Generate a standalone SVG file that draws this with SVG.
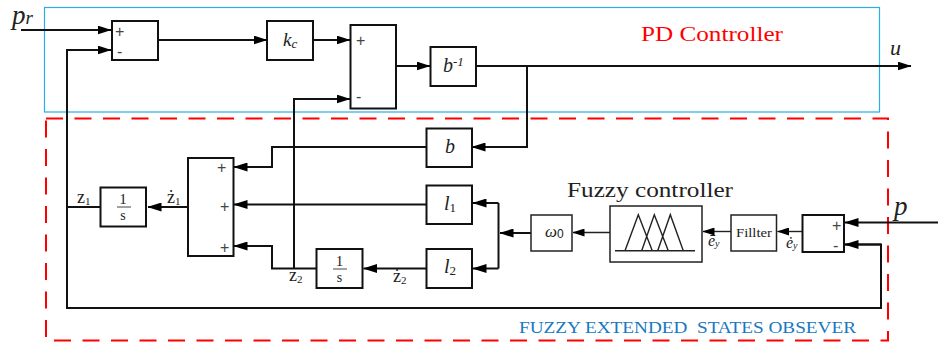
<svg xmlns="http://www.w3.org/2000/svg" width="938" height="349" viewBox="0 0 938 349">
<style>
.b{fill:#fff;stroke:#111;stroke-width:2}
.b2{fill:#fff;stroke:#222;stroke-width:1.5}
.c{fill:none;stroke:#111;stroke-width:2;marker-end:url(#a)}
.n{fill:none;stroke:#111;stroke-width:2}
.t{fill:none;stroke:#222;stroke-width:1.4;marker-end:url(#s)}
text{font-family:"Liberation Serif","Times New Roman",serif;fill:#222;white-space:pre}
.i{font-style:italic}
.sg{font-family:"Liberation Sans",Arial,sans-serif;font-size:16px;fill:#444}
.m{text-anchor:middle}
</style>
<defs>
<marker id="a" markerUnits="userSpaceOnUse" markerWidth="14" markerHeight="9" refX="13.5" refY="4.5" orient="auto"><path d="M0 0L14 4.5L0 9Z" fill="#000"/></marker>
<marker id="s" markerUnits="userSpaceOnUse" markerWidth="12" markerHeight="8" refX="11.5" refY="4" orient="auto"><path d="M0 0L12 4L0 8Z" fill="#000"/></marker>
</defs>
<g id="pd-frame"><rect x="44.5" y="7.5" width="835" height="104.5" fill="none" stroke="#29aee6" stroke-width="1.2"/><text x="641" y="41" font-size="22" textLength="142" lengthAdjust="spacingAndGlyphs" style="fill:#f00">PD Controller</text></g>
<g id="observer-frame"><rect x="46" y="118.5" width="842" height="222" fill="none" stroke="#f00" stroke-width="2" stroke-dasharray="17 11.5"/><text x="519" y="333" font-size="17" textLength="337" lengthAdjust="spacingAndGlyphs" style="fill:#1878c0">FUZZY EXTENDED  STATES OBSEVER</text></g>
<g id="connectors">
<path class="c" d="M21 30H111"/>
<path class="c" d="M67 207V50H111"/>
<path class="c" d="M158 40H267"/>
<path class="c" d="M313 40H350"/>
<path class="c" d="M396 66H430"/>
<path class="c" d="M476 66H911"/>
<path class="c" d="M527 66V147H472"/>
<path class="c" d="M426 147H272V167H234"/>
<path class="c" d="M426 204.5H234"/>
<path class="c" d="M316.5 268.5H272V246H234"/>
<path class="c" d="M294 268.5V99H350"/>
<path class="c" d="M188 207H148"/>
<path class="n" d="M100 207H67V308H881V244.5H845"/>
<path class="c" d="M881 244.500H845"/>
<path class="c" d="M426 268.500H363.500"/>
<path class="c" d="M498.500 203H473"/>
<path class="c" d="M498.500 268.500H473"/>
<path class="n" d="M498.500 203V268.500"/>
<path class="c" d="M531 233H500"/>
<path class="t" d="M610 232.500H573"/>
<path class="t" d="M731 231.500H703"/>
<path class="t" d="M802 231.500H777.500"/>
<path class="c" d="M938 222.500H845"/>
</g>
<g id="sum1"><rect class="b" x="112" y="21" width="46" height="39"/><text class="sg" x="115" y="37">+</text><text class="sg" x="117" y="57">-</text></g>
<g id="kc"><rect class="b" x="267" y="21" width="46" height="39"/><text class="i" x="283" y="46" font-size="19">k<tspan font-size="13" dy="2">c</tspan></text></g>
<g id="sum2"><rect class="b" x="350.500" y="25" width="45.500" height="83.500"/><text class="sg" x="356" y="46">+</text><text class="sg" x="356" y="102">-</text></g>
<g id="binv"><rect class="b" x="430.500" y="47" width="45.500" height="39"/><text class="i" x="443" y="72" font-size="20">b<tspan font-size="13" dy="-6">-1</tspan></text></g>
<g id="b"><rect class="b" x="426.500" y="128.500" width="45.500" height="38.500"/><text class="i" x="445" y="153" font-size="20">b</text></g>
<g id="sum3"><rect class="b" x="188" y="158" width="45.500" height="98"/><text class="sg" x="217" y="173">+</text><text class="sg" x="220" y="212">+</text><text class="sg" x="220" y="253">+</text></g>
<g id="int1"><rect class="b" x="100.500" y="187.500" width="45.500" height="39"/><text class="m" x="123" y="203.500" font-size="15">1</text><path d="M117 207H131" stroke="#444"/><text class="m" x="123" y="220" font-size="14">s</text></g>
<g id="l1"><rect class="b" x="426.500" y="185.500" width="45.500" height="38.500"/><text class="i" x="444" y="210" font-size="20">l<tspan font-size="13" dy="2" font-style="normal">1</tspan></text></g>
<g id="l2"><rect class="b" x="426.500" y="249" width="45.500" height="39"/><text class="i" x="444" y="273" font-size="20">l<tspan font-size="13" dy="2" font-style="normal">2</tspan></text></g>
<g id="int2"><rect class="b" x="316.500" y="249" width="46" height="39"/><text class="m" x="339.500" y="265.500" font-size="15">1</text><path d="M333 269H347" stroke="#444"/><text class="m" x="339.500" y="282" font-size="14">s</text></g>
<g id="w0"><rect class="b2" x="531" y="215" width="41" height="36"/><text class="i" x="545" y="237" font-size="17">ω<tspan font-size="12" dy="1" font-style="normal" style="font-family:'Liberation Sans',sans-serif">0</tspan></text></g>
<g id="fuzzy"><rect class="b2" x="610" y="206" width="92" height="56"/><path d="M615 250.700H695M625 250.700L638.300 214.700L652.300 250.700M641.700 250.700L654.300 214.700L668.300 250.700M657.700 250.700L670.300 214.700L683.300 250.700" fill="none" stroke="#222" stroke-width="1.400"/><text x="567" y="197" font-size="21" textLength="166" lengthAdjust="spacingAndGlyphs">Fuzzy controller</text></g>
<g id="filter"><rect class="b2" x="731" y="215" width="45.500" height="36"/><text x="736" y="237" font-size="13" textLength="36" lengthAdjust="spacingAndGlyphs">Fillter</text></g>
<g id="sum4"><rect class="b" x="802.500" y="215" width="41.500" height="37"/><text class="sg" x="832" y="231">+</text><text class="sg" x="833" y="251">-</text></g>
<g id="labels">
<text class="i" x="12" y="24" font-size="27">p<tspan font-size="19" dy="0">r</tspan></text>
<text class="i" x="890" y="55" font-size="22">u</text>
<text class="i" x="894" y="215" font-size="27">p</text>
<text x="77" y="203" font-size="18">z<tspan font-size="11" dy="2">1</tspan></text>
<text x="167" y="203" font-size="18">ż<tspan font-size="11" dy="2">1</tspan></text>
<text x="289" y="281" font-size="18">z<tspan font-size="11" dy="2">2</tspan></text>
<text x="393" y="282" font-size="18">ż<tspan font-size="11" dy="2">2</tspan></text>
<text class="i" x="708" y="246" font-size="16">ē<tspan font-size="10" dy="1">y</tspan></text>
<text class="i" x="786" y="248" font-size="16">ė<tspan font-size="10" dy="1">y</tspan></text>
</g>
</svg>
